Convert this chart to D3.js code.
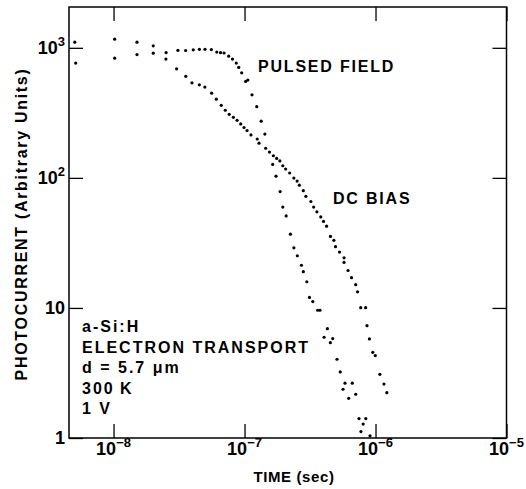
<!DOCTYPE html>
<html>
<head>
<meta charset="utf-8">
<script src="https://d3js.org/d3.v7.min.js"></script>
<style>
  body { margin: 0; background: #fff; }
  text { font-family: "Liberation Sans", Arial, Helvetica, sans-serif; font-weight: bold; fill: #000; }
</style>
</head>
<body>
<script>
// pulsed field transient (time in s, photocurrent in arbitrary units)
var pulsedTime = [5.06e-9, 1.02e-8, 1.51e-8, 2.01e-8, 2.52e-8, 3.10e-8, 3.55e-8, 4.06e-8, 4.52e-8, 4.99e-8,
  5.58e-8, 6.14e-8, 6.56e-8, 6.98e-8, 7.57e-8, 8.09e-8, 8.65e-8, 9.03e-8, 9.51e-8, 1.02e-7,
  1.06e-7, 1.14e-7, 1.24e-7, 1.34e-7, 1.43e-7, 1.64e-7, 1.74e-7, 1.87e-7, 1.96e-7, 2.08e-7,
  2.24e-7, 2.38e-7, 2.53e-7, 2.72e-7, 2.81e-7, 2.99e-7, 3.13e-7, 3.32e-7, 3.62e-7, 3.77e-7,
  4.05e-7, 4.29e-7, 4.52e-7, 4.71e-7, 5.08e-7, 5.38e-7, 5.65e-7, 5.85e-7, 6.24e-7, 6.65e-7,
  7.06e-7, 7.48e-7, 7.74e-7, 8.05e-7, 8.43e-7, 9.08e-7];
var pulsedCurrent = [1106, 1166, 1106, 1036, 920, 957, 954, 965, 974, 974,
  970, 928, 918, 912, 863, 820, 763, 707, 642, 552,
  565, 435, 353, 273, 217, 127, 103, 78.5, 59.6, 51.0,
  36.9, 29.0, 25.2, 21.3, 19.0, 15.9, 12.05, 11.2, 9.6, 9.6,
  5.95, 6.93, 5.41, 5.81, 4.03, 3.22, 2.37, 2.64, 2.02, 2.64,
  2.17, 1.41, 1.12, 1.28, 1.41, 1.04];

// DC bias transient
var dcTime = [5.14e-9, 1.02e-8, 1.51e-8, 2.01e-8, 2.51e-8, 3.03e-8, 3.56e-8, 3.97e-8, 4.52e-8, 4.98e-8,
  5.61e-8, 6.09e-8, 6.64e-8, 7.13e-8, 7.64e-8, 8.22e-8, 8.77e-8, 9.35e-8, 9.91e-8, 1.045e-7,
  1.12e-7, 1.25e-7, 1.29e-7, 1.45e-7, 1.55e-7, 1.66e-7, 1.76e-7, 1.86e-7, 1.96e-7, 2.06e-7,
  2.21e-7, 2.38e-7, 2.52e-7, 2.62e-7, 2.81e-7, 2.94e-7, 3.21e-7, 3.37e-7, 3.57e-7, 3.82e-7,
  4.01e-7, 4.23e-7, 4.53e-7, 4.81e-7, 4.95e-7, 5.31e-7, 5.75e-7, 5.75e-7, 6.17e-7, 6.56e-7,
  7.06e-7, 7.29e-7, 7.71e-7, 8.41e-7, 8.61e-7, 8.98e-7, 9.53e-7, 9.96e-7, 1.08e-6, 1.16e-6,
  1.22e-6];
var dcCurrent = [763, 833, 888, 910, 819, 690, 604, 538, 519, 499,
  448, 403, 361, 331, 308, 292, 277, 260, 244, 231,
  214, 199, 185, 169, 158, 148, 141, 135, 124, 117,
  109, 99.7, 94.5, 87.9, 79.8, 72.1, 65.8, 59.6, 54.8, 50.1,
  46.3, 42.5, 35.5, 33.1, 29.6, 26.9, 24.3, 22.4, 19.4, 17.1,
  15.1, 13.3, 10.05, 10.05, 7.31, 5.78, 4.56, 4.30, 3.09, 2.60,
  2.23];

var xTicks = [1e-8, 1e-7, 1e-6, 1e-5];
var xTickExp = ["\u22128", "\u22127", "\u22126", "\u22125"];
var yTicks = [1, 10, 100, 1000];
var yTickBase = ["1", "10", "10", "10"];
var yTickSup = ["", "", "2", "3"];

var notes = ["a-Si:H", "ELECTRON TRANSPORT", "d = 5.7 \u03bcm", "300\u2009K", "1 V"];

var w = 526, h = 489;
var xMin = 4.57e-9, xMax = 1e-5;
var yMin = 1, yMax = 2060;

var x = d3.scaleLog().domain([xMin, xMax]).range([69, 506.5]);
var y = d3.scaleLog().domain([yMin, yMax]).range([438, 7]);

var svg = d3.select("body").append("svg").attr("width", w).attr("height", h);

// frame
svg.append("rect")
  .attr("x", x(xMin)).attr("y", y(yMax))
  .attr("width", x(xMax) - x(xMin)).attr("height", y(yMin) - y(yMax))
  .attr("fill", "none").attr("stroke", "#000").attr("stroke-width", 1.5);

// inward ticks on all four sides
var tl = 14;
var axes = [
  d3.axisBottom(x).tickValues(xTicks).tickSize(-tl).tickFormat(""),
  d3.axisTop(x).tickValues(xTicks).tickSize(-tl).tickFormat(""),
  d3.axisLeft(y).tickValues(yTicks).tickSize(-tl).tickFormat(""),
  d3.axisRight(y).tickValues(yTicks).tickSize(-tl).tickFormat("")
];
var shifts = ["0," + y(yMin), "0," + y(yMax), x(xMin) + ",0", x(xMax) + ",0"];
axes.forEach(function(a, i) {
  var g = svg.append("g").attr("transform", "translate(" + shifts[i] + ")").call(a);
  g.select(".domain").remove();
  g.selectAll("line").attr("stroke", "#000").attr("stroke-width", 1.3);
});

// x tick labels
xTicks.forEach(function(t, i) {
  var tx = svg.append("text").attr("x", x(t)).attr("y", 455)
    .attr("text-anchor", "middle").attr("font-size", 18);
  tx.append("tspan").text("10");
  tx.append("tspan").attr("dy", -8).attr("font-size", 13).text(xTickExp[i]);
});

// y tick labels
yTicks.forEach(function(v, i) {
  var ty = svg.append("text").attr("x", 65).attr("y", y(v) + 6)
    .attr("text-anchor", "end").attr("font-size", 18);
  ty.append("tspan").text(yTickBase[i]);
  if (yTickSup[i]) ty.append("tspan").attr("dy", -8).attr("font-size", 13).text(yTickSup[i]);
});

// axis titles
svg.append("text").attr("x", 294).attr("y", 482).attr("text-anchor", "middle")
  .attr("font-size", 15).attr("letter-spacing", 0.6).text("TIME (sec)");
svg.append("text").attr("transform", "translate(27,224) rotate(-90)")
  .attr("text-anchor", "middle").attr("font-size", 16).attr("letter-spacing", 1.7)
  .text("PHOTOCURRENT (Arbitrary Units)");

// data points
function dots(ts, vs) {
  svg.append("g").selectAll("circle").data(ts).enter().append("circle")
    .attr("cx", function(d) { return x(d); })
    .attr("cy", function(d, i) { return y(vs[i]); })
    .attr("r", 1.6).attr("fill", "#000");
}
dots(pulsedTime, pulsedCurrent);
dots(dcTime, dcCurrent);

// curve labels
svg.append("text").attr("x", 258).attr("y", 72).attr("font-size", 16)
  .attr("letter-spacing", 1.8).text("PULSED FIELD");
svg.append("text").attr("x", 333).attr("y", 204).attr("font-size", 16)
  .attr("letter-spacing", 1.8).text("DC BIAS");

// sample notes
svg.append("g").selectAll("text").data(notes).enter().append("text")
  .attr("x", 82).attr("y", function(d, i) { return 332 + i * 20.5; })
  .attr("font-size", 16).attr("letter-spacing", 2)
  .text(function(d) { return d; });
</script>
</body>
</html>
